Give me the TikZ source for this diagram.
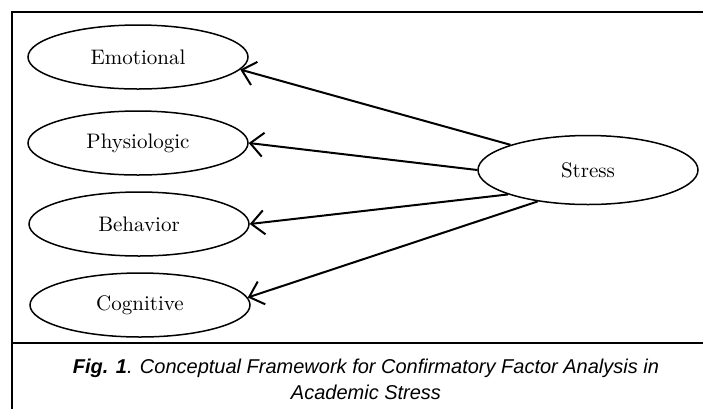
\documentclass[tikz,border=0pt]{standalone}
\usepackage{fontspec}
\newfontfamily\captionfont{Liberation Sans}
\usepackage{tikz}
\usetikzlibrary{arrows.meta, shapes, positioning}
\tikzset{
    ellipsenode/.style = {draw, ellipse, line width=0.75pt, inner sep = 0em, node distance=0em,
      minimum width=110pt, minimum height=32pt, font=\fontsize{10.5}{12}\selectfont},
    textnode/.style  = {draw=none, fill=none, rectangle, minimum size=0cm, inner sep = 0em,
      node distance=0em, font=\captionfont\itshape\fontsize{10}{13}\selectfont},
    connect/.style = {black, line width=1pt, -{Straight Barb[length=6.5pt,width=12pt]}},
    framing/.style = {black, line width=1pt},
    every text node part/.style={align=center}
}
\begin{document}
\begin{tikzpicture}
    \useasboundingbox (0,0) rectangle (351.5pt,-204.5pt);

    % frame and caption rule
    \draw [framing] (6pt,-204.5pt) -- (6pt,-6pt) -- (351.5pt,-6pt);
    \draw [framing] (6pt,-171.5pt) -- (351.5pt,-171.5pt);

    \node [name=emo, ellipsenode] at (69pt,-28.5pt) {Emotional};
    \node [name=phy, ellipsenode, below of = emo, yshift=-43pt] {Physiologic};
    \node [name=beh, ellipsenode, below of = emo, xshift=0.5pt, yshift=-83.5pt] {Behavior};
    \node [name=cog, ellipsenode, below of = emo, xshift=1pt, yshift=-124pt] {Cognitive};

    \node [name=str, ellipsenode, minimum height=34.5pt,
        right of = emo, xshift=225pt, yshift=-56.5pt] {Stress};

    \draw [connect] (str.162) -- (emo.-7);
    \draw [connect] (str.west) -- (phy.east);
    \draw [connect] (str.197) -- (beh.east);
    \draw [connect] (str.212) -- (cog.4);

    \node [name=cap, textnode] at (183pt,-189.5pt)
        {{\bfseries Fig. 1}. Conceptual Framework for Confirmatory Factor Analysis in\\Academic Stress};
\end{tikzpicture}
\end{document}
